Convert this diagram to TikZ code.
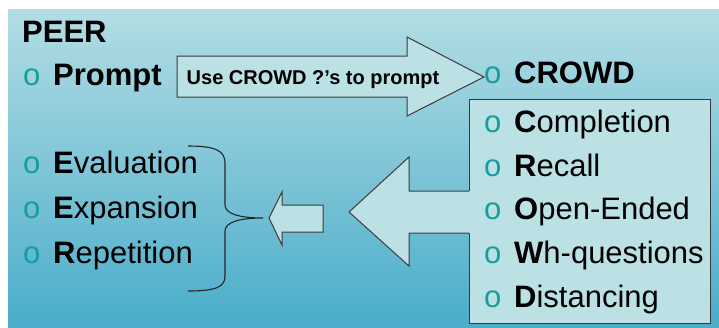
\documentclass[tikz,border=0pt]{standalone}
\usepackage{fontspec}
\setmainfont{Liberation Sans}
\definecolor{paneltop}{HTML}{B3DDE4}
\definecolor{panelbottom}{HTML}{4AADCA}
\definecolor{boxfill}{HTML}{BBE1E5}
\definecolor{bullet}{HTML}{149E9E}
\definecolor{edge}{HTML}{3A3A3A}
\newcommand\itembullet{\makebox[30pt][l]{\color{bullet}o}}
\begin{document}
\begin{tikzpicture}[x=1pt,y=-1pt,
  item/.style={anchor=base west, inner sep=0pt, font=\fontsize{31}{36}\selectfont},
  hinttext/.style={anchor=base west, inner sep=0pt, font=\fontsize{20}{24}\selectfont\bfseries},
  arrowshape/.style={draw=edge, fill=boxfill, line width=1pt, line join=miter},
  listbox/.style={draw=edge, fill=boxfill, line width=1.1pt, inner sep=0pt,
    anchor=north west, minimum width=241pt, minimum height=224pt},
  bracestyle/.style={draw=black!85, line width=1.1pt}]
\useasboundingbox (0,0) rectangle (719,327);
% background panel
\shade[top color=paneltop, bottom color=panelbottom] (8,9) rectangle (719,327);

% PEER column
\node[item] (peer) at (22,42) {\textbf{PEER}};
\node[item] (prompt) at (23,85) {\itembullet\textbf{Prompt}};

% arrow from Prompt to CROWD
\draw[arrowshape] (177,56) -- (407,56) -- (407,37) -- (484,77)
  -- (407,116) -- (407,97) -- (177,97) -- cycle;
\node[hinttext] (hint) at (186.5,84) {Use CROWD ?’s to prompt};

% CROWD heading and list box
\node[item] (crowd) at (484,83) {\itembullet\textbf{CROWD}};
\node[listbox] (crowdbox) at (469,99) {};

% big arrow leaving the list box
\fill[boxfill] (349,212) -- (409,157) -- (409,191) -- (471,191)
  -- (471,233) -- (409,233) -- (409,266) -- cycle;
\draw[arrowshape, fill=none] (crowdbox.west |- 0,191) -- (409,191) -- (409,157)
  -- (349,212) -- (409,266) -- (409,233) -- (crowdbox.west |- 0,233);

% CROWD items
\node[item] (completion) at (484,132) {\itembullet\textbf{C}ompletion};
\node[item] (recall)     at (484,176) {\itembullet\textbf{R}ecall};
\node[item] (openended)  at (484,219.5) {\itembullet\textbf{O}pen-Ended};
\node[item] (whq)        at (484,263) {\itembullet\textbf{W}h-questions};
\node[item] (distancing) at (484,307) {\itembullet\textbf{D}istancing};

% small arrow towards the brace
\draw[arrowshape] (269,218) -- (282,192) -- (282,205) -- (323,205)
  -- (323,232) -- (282,232) -- (282,245) -- cycle;

% brace grouping E, E, R
\draw[bracestyle] (188,146) .. controls (216,146) and (225,151) .. (225,163)
  -- (225,205) .. controls (225,214) and (240,218) .. (263,218)
  .. controls (240,218) and (225,222) .. (225,231)
  -- (225,276) .. controls (225,287) and (216,291) .. (188,291);

% PEER items
\node[item] (evaluation) at (23,173) {\itembullet\textbf{E}valuation};
\node[item] (expansion)  at (23,218) {\itembullet\textbf{E}xpansion};
\node[item] (repetition) at (23,263) {\itembullet\textbf{R}epetition};
\end{tikzpicture}
\end{document}
